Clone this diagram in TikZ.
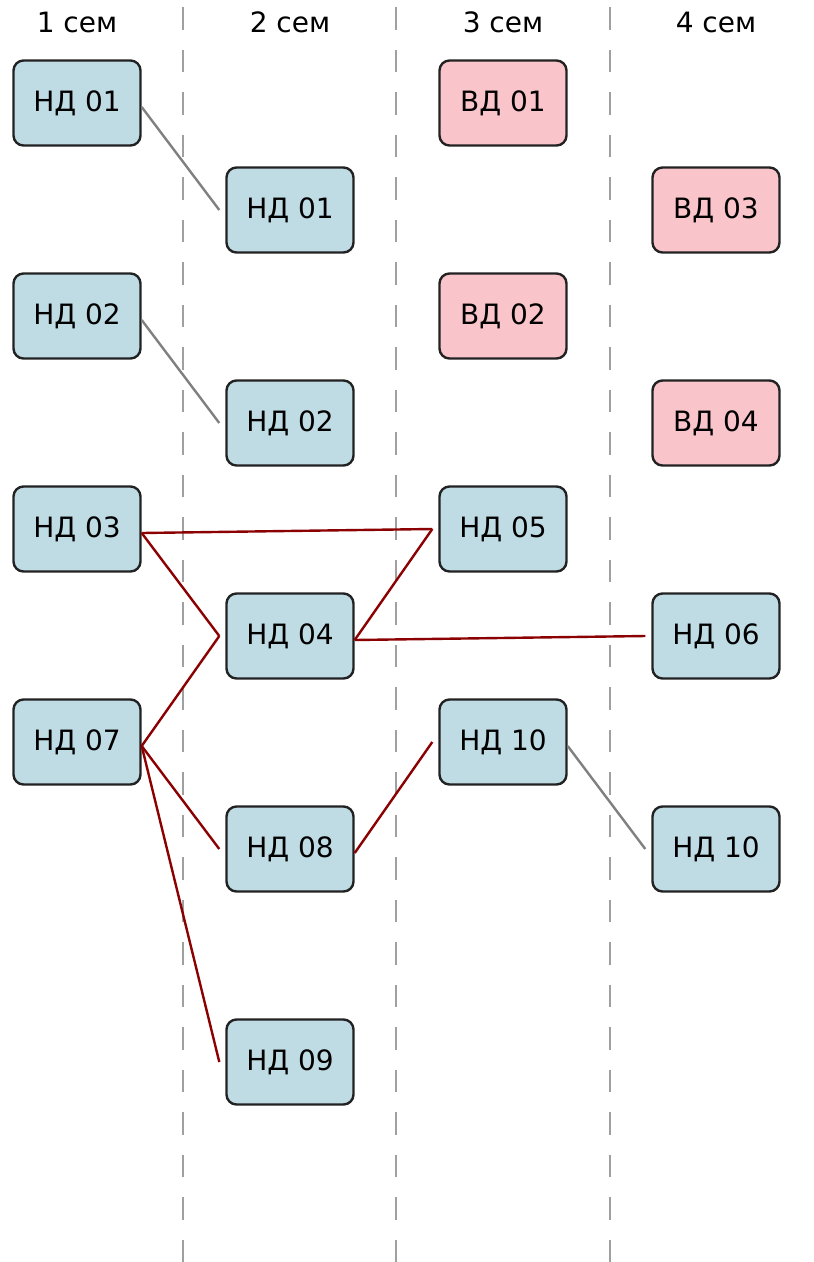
\documentclass[tikz,border=0pt]{standalone}
\usepackage{fontspec}
\setmainfont{DejaVu Sans}
\definecolor{nblue}{RGB}{191,220,229}
\definecolor{vpink}{RGB}{249,196,202}
\definecolor{edgered}{RGB}{139,0,0}
\definecolor{edgegray}{RGB}{128,128,128}
\definecolor{sepgray}{RGB}{160,160,160}
\definecolor{boxline}{RGB}{34,34,34}
\tikzset{
  course/.style={draw=boxline, line width=2.4pt, rounded corners=10pt, minimum width=127pt, minimum height=85pt, inner sep=0pt, font=\fontsize{28}{32}\selectfont},
  nd/.style={course, fill=nblue},
  vd/.style={course, fill=vpink},
  sem/.style={font=\fontsize{28}{32}\selectfont},
  sep/.style={draw=sepgray, line width=2.6pt, dash pattern=on 22.5pt off 20pt},
  req/.style={draw=edgered, line width=2.4pt},
  opt/.style={draw=edgegray, line width=2.4pt}
}
\begin{document}
\begin{tikzpicture}[x=1pt,y=-1pt]
\useasboundingbox (0,0) rectangle (814,1262);
% separators
\coordinate (s1t) at (183,7); \coordinate (s1b) at (183,1262);
\coordinate (s2t) at (396,7); \coordinate (s2b) at (396,1262);
\coordinate (s3t) at (610,7); \coordinate (s3b) at (610,1262);
\draw[sep] (s1t) -- (s1b);
\draw[sep] (s2t) -- (s2b);
\draw[sep] (s3t) -- (s3b);
% headers
\node[sem] (h1) at (77,22) {1 сем};
\node[sem] (h2) at (290,22) {2 сем};
\node[sem] (h3) at (503,22) {3 сем};
\node[sem] (h4) at (716,22) {4 сем};
% column 1
\node[nd] (a1) at (77,103) {НД 01};
\node[nd] (a2) at (77,316) {НД 02};
\node[nd] (a3) at (77,529) {НД 03};
\node[nd] (a7) at (77,742) {НД 07};
% column 2
\node[nd] (b1) at (290,210) {НД 01};
\node[nd] (b2) at (290,423) {НД 02};
\node[nd] (b4) at (290,636) {НД 04};
\node[nd] (b8) at (290,849) {НД 08};
\node[nd] (b9) at (290,1062) {НД 09};
% column 3
\node[vd] (c1) at (503,103) {ВД 01};
\node[vd] (c2) at (503,316) {ВД 02};
\node[nd] (c5) at (503,529) {НД 05};
\node[nd] (c10) at (503,742) {НД 10};
% column 4
\node[vd] (d3) at (716,210) {ВД 03};
\node[vd] (d4) at (716,423) {ВД 04};
\node[nd] (d6) at (716,636) {НД 06};
\node[nd] (d10) at (716,849) {НД 10};
% connectors
\draw[opt] ([yshift=-4pt]a1.east) -- ([xshift=-6pt]b1.west);
\draw[opt] ([yshift=-4pt]a2.east) -- ([xshift=-6pt]b2.west);
\draw[opt] ([yshift=-4pt]c10.east) -- ([xshift=-6pt]d10.west);
\draw[req] ([yshift=-4pt]a3.east) -- ([xshift=-6pt]c5.west);
\draw[req] ([yshift=-4pt]a3.east) -- ([xshift=-6pt]b4.west);
\draw[req] ([yshift=-4pt]a7.east) -- ([xshift=-6pt]b4.west);
\draw[req] ([yshift=-4pt]a7.east) -- ([xshift=-6pt]b8.west);
\draw[req] ([yshift=-4pt]a7.east) -- ([xshift=-6pt]b9.west);
\draw[req] ([yshift=-4pt]b4.east) -- ([xshift=-6pt]c5.west);
\draw[req] ([yshift=-4pt]b4.east) -- ([xshift=-6pt]d6.west);
\draw[req] ([yshift=-4pt]b8.east) -- ([xshift=-6pt]c10.west);
\end{tikzpicture}
\end{document}
